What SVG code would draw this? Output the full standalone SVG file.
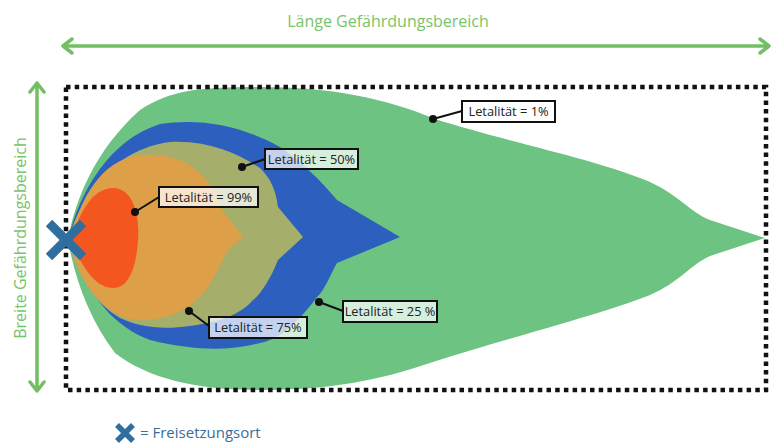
<svg xmlns="http://www.w3.org/2000/svg" width="775" height="444" viewBox="0 0 775 444">
<style>
.ttl{font-family:"Open Sans","Noto Sans",sans-serif;font-size:16px;fill:#78c46a}
.lbl{font-family:"Open Sans","Noto Sans",sans-serif;font-size:12.8px;fill:#222}
.box{fill:#fff;fill-opacity:0.72;stroke:#111;stroke-width:2}
.lead{stroke:#111;stroke-width:2;fill:none}
.dot{fill:#111}
.arr{stroke:#74bf64;stroke-width:3.5;fill:none;stroke-linecap:round;stroke-linejoin:round}
.xm{stroke:#2f6e9e;stroke-linecap:butt}
</style>
<rect width="775" height="444" fill="#fff"/>
<g id="zones">
<path id="z1" fill="#6cc382" d="M68,240 C75,200 95,150 140,110 C170,90 200,87 260,87 C330,87 385,98 435,119 C500,140 600,160 650,182 C680,196 690,212 710,220 L765,238 L710,256 C690,265 680,282 650,295 C600,315 500,340 430,363 C380,380 330,390 260,390 C200,390 150,380 115,353 C90,320 75,280 68,240 Z"/>
<path id="z25" fill="#2d5fbf" d="M68,240 C80,190 110,140 160,124 C200,118 240,125 280,147 C300,160 320,180 337,200 L400,237 L337,263 C330,275 325,290 317,297 C300,320 280,340 260,343 C230,350 200,352 150,340 C110,325 85,290 68,240 Z"/>
<path id="z50" fill="#a6ae6c" d="M68,240 C80,200 110,150 170,142 C210,140 240,155 260,168 C275,182 277,200 278,207 L303,237 L278,260 C270,280 260,295 253,300 C240,315 220,322 190,326 C160,330 140,327 120,318 C90,300 75,270 68,240 Z"/>
<path id="z75" fill="#dd9f48" d="M70,240 C80,200 100,160 140,155 C180,152 200,170 210,185 C218,200 222,212 230,220 L243,237 L230,248 C222,258 215,280 200,297 C185,312 165,320 140,320 C110,320 80,290 70,240 Z"/>
<path id="z99" fill="#f4561f" d="M72,240 C78,215 92,188 113,188 C133,188 140,215 138,240 C136,270 128,288 113,288 C95,288 80,265 72,240 Z"/>
</g>
<rect id="area" x="66" y="87" width="700" height="303" fill="none" stroke="#111" stroke-width="4.5" stroke-dasharray="4.5 4.2"/>
<g id="dims">
<path class="arr" d="M63,46 H769 M72,39 L63,46 L72,53 M760,39 L769,46 L760,53"/>
<path class="arr" d="M37,83 V391 M30,92 L37,83 L44,92 M30,382 L37,391 L44,382"/>
<text class="ttl" x="388" y="27" text-anchor="middle">Länge Gefährdungsbereich</text>
<text class="ttl" transform="translate(26,238) rotate(-90)" text-anchor="middle">Breite Gefährdungsbereich</text>
</g>
<g id="connectors">
<path class="lead" d="M433,119 L462,111"/>
<path class="lead" d="M242,167 L265,159"/>
<path class="lead" d="M135,212 L159,197"/>
<path class="lead" d="M189,311 L209,326"/>
<path class="lead" d="M319,302 L343,311"/>
<circle class="dot" cx="433" cy="119" r="4"/>
<circle class="dot" cx="242" cy="167" r="4"/>
<circle class="dot" cx="135" cy="212" r="4"/>
<circle class="dot" cx="189" cy="311" r="4"/>
<circle class="dot" cx="319" cy="302" r="4"/>
</g>
<g id="l1"><rect class="box" x="462" y="101" width="93" height="21"/><text class="lbl" x="508.5" y="116" text-anchor="middle">Letalität = 1%</text></g>
<g id="l50"><rect class="box" x="265" y="149" width="93" height="20"/><text class="lbl" x="311.5" y="163.5" text-anchor="middle">Letalität = 50%</text></g>
<g id="l99"><rect class="box" x="159" y="187" width="99" height="20"/><text class="lbl" x="208.5" y="201.5" text-anchor="middle">Letalität = 99%</text></g>
<g id="l75"><rect class="box" x="209" y="317" width="98" height="21"/><text class="lbl" x="258" y="332" text-anchor="middle">Letalität = 75%</text></g>
<g id="l25"><rect class="box" x="343" y="301" width="94" height="21"/><text class="lbl" x="390" y="316" text-anchor="middle">Letalität = 25 %</text></g>
<g id="source"><path class="xm" stroke-width="9" d="M49,223 L83,257 M83,223 L49,257"/></g>
<g id="legend">
<path class="xm" stroke-width="5.5" d="M117,425 L133,441 M133,425 L117,441"/>
<text x="140" y="438" font-family="'Open Sans','Noto Sans',sans-serif" font-size="15" fill="#3a6e9a">= Freisetzungsort</text>
</g>
</svg>
